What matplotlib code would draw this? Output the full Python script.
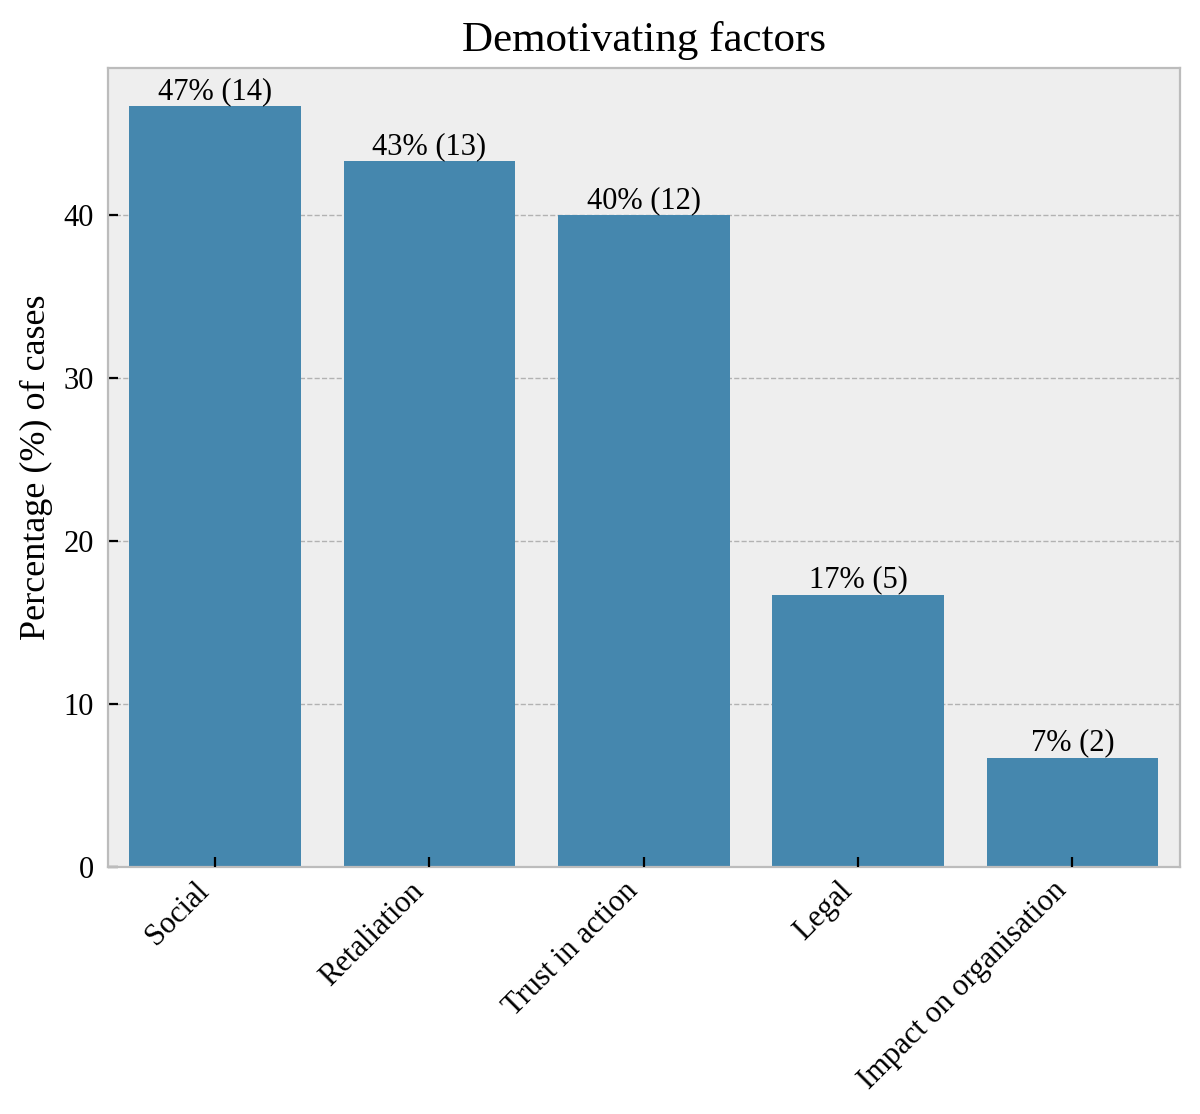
import matplotlib
matplotlib.use("Agg")
import matplotlib.pyplot as plt

categories = ["Social", "Retaliation", "Trust in action", "Legal", "Impact on organisation"]
percentages = [46.7, 43.3, 40.0, 16.7, 6.7]
counts = [14, 13, 12, 5, 2]
labels = ["47% (14)", "43% (13)", "40% (12)", "17% (5)", "7% (2)"]

plt.style.use("bmh")
plt.rcParams["font.family"] = ["Liberation Serif", "DejaVu Serif"]

fig, ax = plt.subplots(figsize=(6, 5.57), dpi=200)
x = range(len(categories))
bars = ax.bar(x, percentages, width=0.8, color="#4587ae", zorder=2)
ax.set_xlim(-0.5, len(categories) - 0.5)
ax.xaxis.grid(False)
ax.yaxis.grid(True, linestyle="--", linewidth=0.5, color="#b2b2b2")
ax.set_axisbelow(True)
ax.xaxis.set_zorder(2.5)
ax.set_xticks(list(x))
ax.set_xticklabels(categories, rotation=45, ha="right", fontsize=11)
ax.tick_params(axis="x", direction="in", color="black", length=3.5, width=0.8)
ax.tick_params(axis="y", direction="in", color="black", length=3.5, width=0.8,
               labelsize=11, pad=5)
for b, lab in zip(bars, labels):
    ax.annotate(lab, (b.get_x() + b.get_width() / 2, b.get_height()),
                ha="center", va="bottom", fontsize=11)
ax.set_ylabel("Percentage (%) of cases", fontsize=13)
ax.set_title("Demotivating factors", fontsize=15.5)
fig.subplots_adjust(left=0.09, right=0.983, top=0.939, bottom=0.222)
fig.savefig("out.png", dpi=200)
